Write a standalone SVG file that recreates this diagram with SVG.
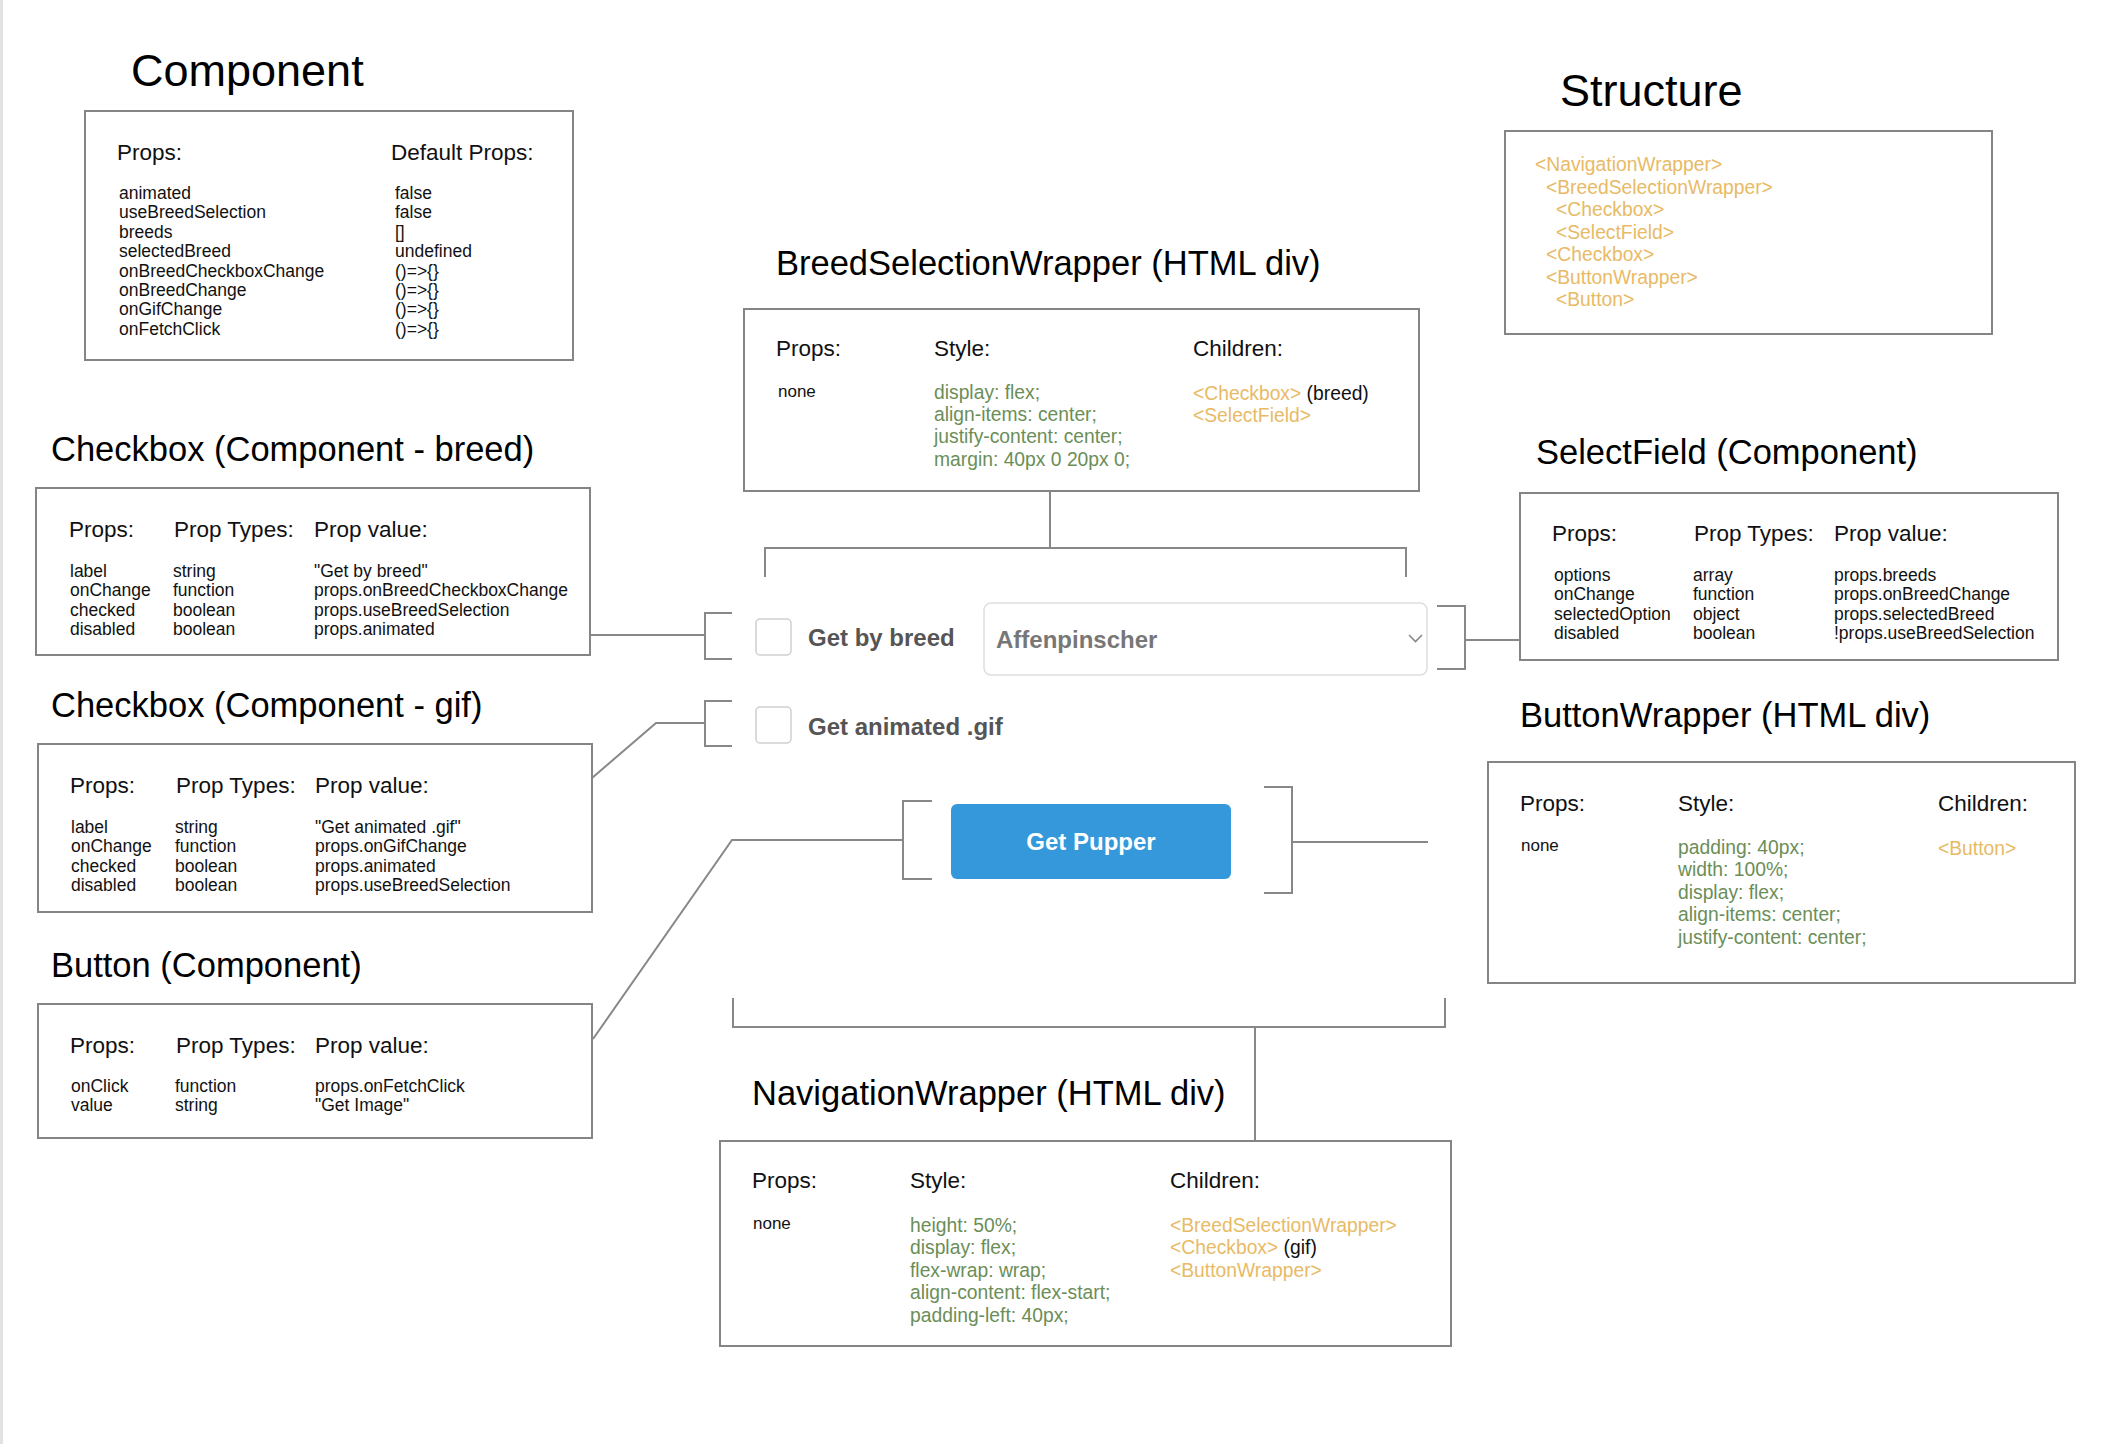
<svg xmlns="http://www.w3.org/2000/svg" width="2113" height="1444" viewBox="0 0 2113 1444">
<style>
text{font-family:"Liberation Sans",Arial,sans-serif}
.title{font-size:34.5px;fill:#000}
.big{font-size:45px;fill:#000}
.box{fill:#fff;stroke:#858585;stroke-width:2}
.hdr{font-size:22.5px;fill:#111}
.item{font-size:17.5px;fill:#111}
.none{font-size:17px;fill:#111}
.css{font-size:19.3px;fill:#6b8e58}
.tag{font-size:19.3px;fill:#e8ba66}
.plain{font-size:19.3px;fill:#111}
.conn{fill:none;stroke:#888;stroke-width:2}
.ui{font-weight:bold;font-size:24px}
.cb{fill:#fff;stroke:#cfcfcf;stroke-width:1.5}
</style>
<rect x="0" y="0" width="2113" height="1444" fill="#fff"/>
<rect x="0" y="0" width="3" height="1444" fill="#e2e2e2"/>

<g id="connectors">
  <path class="conn" d="M1050,491 V548 M765,577 V548 H1406 V577"/>
  <path class="conn" d="M590,635 H705 M732,613 H705 V659 H732"/>
  <path class="conn" d="M732,701 H705 V746 H732 M705,723 H656 L592,778"/>
  <path class="conn" d="M932,801 H903 V879 H932 M903,840 H732 L593,1039"/>
  <path class="conn" d="M1264,787 H1292 V893 H1264 M1292,842 H1428"/>
  <path class="conn" d="M1437,606 H1465 V669 H1437 M1465,640 H1520"/>
  <path class="conn" d="M733,998 V1027 H1445 V998 M1255,1027 V1141"/>
</g>

<g id="component">
  <text class="big" x="131" y="86">Component</text>
  <rect class="box" x="85" y="111" width="488" height="249"/>
  <text class="hdr" x="117" y="160">Props:</text>
  <text class="hdr" x="391" y="160">Default Props:</text>
  <text class="item" x="119" y="199">animated<tspan x="119" dy="19.4">useBreedSelection</tspan><tspan x="119" dy="19.4">breeds</tspan><tspan x="119" dy="19.4">selectedBreed</tspan><tspan x="119" dy="19.4">onBreedCheckboxChange</tspan><tspan x="119" dy="19.4">onBreedChange</tspan><tspan x="119" dy="19.4">onGifChange</tspan><tspan x="119" dy="19.4">onFetchClick</tspan></text>
  <text class="item" x="395" y="199">false<tspan x="395" dy="19.4">false</tspan><tspan x="395" dy="19.4">[]</tspan><tspan x="395" dy="19.4">undefined</tspan><tspan x="395" dy="19.4">()=&gt;{}</tspan><tspan x="395" dy="19.4">()=&gt;{}</tspan><tspan x="395" dy="19.4">()=&gt;{}</tspan><tspan x="395" dy="19.4">()=&gt;{}</tspan></text>
</g>

<g id="checkbox-breed">
  <text class="title" x="51" y="461">Checkbox (Component - breed)</text>
  <rect class="box" x="36" y="488" width="554" height="167"/>
  <text class="hdr" x="69" y="537">Props:</text>
  <text class="hdr" x="174" y="537">Prop Types:</text>
  <text class="hdr" x="314" y="537">Prop value:</text>
  <text class="item" x="70" y="577">label<tspan x="70" dy="19.3">onChange</tspan><tspan x="70" dy="19.3">checked</tspan><tspan x="70" dy="19.3">disabled</tspan></text>
  <text class="item" x="173" y="577">string<tspan x="173" dy="19.3">function</tspan><tspan x="173" dy="19.3">boolean</tspan><tspan x="173" dy="19.3">boolean</tspan></text>
  <text class="item" x="314" y="577">"Get by breed"<tspan x="314" dy="19.3">props.onBreedCheckboxChange</tspan><tspan x="314" dy="19.3">props.useBreedSelection</tspan><tspan x="314" dy="19.3">props.animated</tspan></text>
</g>

<g id="checkbox-gif">
  <text class="title" x="51" y="717">Checkbox (Component - gif)</text>
  <rect class="box" x="38" y="744" width="554" height="168"/>
  <text class="hdr" x="70" y="793">Props:</text>
  <text class="hdr" x="176" y="793">Prop Types:</text>
  <text class="hdr" x="315" y="793">Prop value:</text>
  <text class="item" x="71" y="833">label<tspan x="71" dy="19.4">onChange</tspan><tspan x="71" dy="19.4">checked</tspan><tspan x="71" dy="19.4">disabled</tspan></text>
  <text class="item" x="175" y="833">string<tspan x="175" dy="19.4">function</tspan><tspan x="175" dy="19.4">boolean</tspan><tspan x="175" dy="19.4">boolean</tspan></text>
  <text class="item" x="315" y="833">"Get animated .gif"<tspan x="315" dy="19.4">props.onGifChange</tspan><tspan x="315" dy="19.4">props.animated</tspan><tspan x="315" dy="19.4">props.useBreedSelection</tspan></text>
</g>

<g id="button">
  <text class="title" x="51" y="977">Button (Component)</text>
  <rect class="box" x="38" y="1004" width="554" height="134"/>
  <text class="hdr" x="70" y="1053">Props:</text>
  <text class="hdr" x="176" y="1053">Prop Types:</text>
  <text class="hdr" x="315" y="1053">Prop value:</text>
  <text class="item" x="71" y="1092">onClick<tspan x="71" dy="19.4">value</tspan></text>
  <text class="item" x="175" y="1092">function<tspan x="175" dy="19.4">string</tspan></text>
  <text class="item" x="315" y="1092">props.onFetchClick<tspan x="315" dy="19.4">"Get Image"</tspan></text>
</g>

<g id="breed-selection-wrapper">
  <text class="title" x="776" y="275">BreedSelectionWrapper (HTML div)</text>
  <rect class="box" x="744" y="309" width="675" height="182"/>
  <text class="hdr" x="776" y="356">Props:</text>
  <text class="hdr" x="934" y="356">Style:</text>
  <text class="hdr" x="1193" y="356">Children:</text>
  <text class="none" x="778" y="397">none</text>
  <text class="css" x="934" y="398.5">display: flex;<tspan x="934" dy="22.4">align-items: center;</tspan><tspan x="934" dy="22.4">justify-content: center;</tspan><tspan x="934" dy="22.4">margin: 40px 0 20px 0;</tspan></text>
  <text class="tag" x="1193" y="399.5">&lt;Checkbox&gt;<tspan class="plain"> (breed)</tspan><tspan x="1193" dy="22.4">&lt;SelectField&gt;</tspan></text>
</g>

<g id="structure">
  <text class="big" x="1560" y="106">Structure</text>
  <rect class="box" x="1505" y="131" width="487" height="203"/>
  <text class="tag" x="1535" y="171">&lt;NavigationWrapper&gt;</text>
  <text class="tag" x="1546" y="193.5">&lt;BreedSelectionWrapper&gt;</text>
  <text class="tag" x="1556" y="216">&lt;Checkbox&gt;</text>
  <text class="tag" x="1556" y="238.5">&lt;SelectField&gt;</text>
  <text class="tag" x="1546" y="261">&lt;Checkbox&gt;</text>
  <text class="tag" x="1546" y="283.5">&lt;ButtonWrapper&gt;</text>
  <text class="tag" x="1556" y="306">&lt;Button&gt;</text>
</g>

<g id="select-field">
  <text class="title" x="1536" y="464">SelectField (Component)</text>
  <rect class="box" x="1520" y="493" width="538" height="167"/>
  <text class="hdr" x="1552" y="541">Props:</text>
  <text class="hdr" x="1694" y="541">Prop Types:</text>
  <text class="hdr" x="1834" y="541">Prop value:</text>
  <text class="item" x="1554" y="581">options<tspan x="1554" dy="19.3">onChange</tspan><tspan x="1554" dy="19.3">selectedOption</tspan><tspan x="1554" dy="19.3">disabled</tspan></text>
  <text class="item" x="1693" y="581">array<tspan x="1693" dy="19.3">function</tspan><tspan x="1693" dy="19.3">object</tspan><tspan x="1693" dy="19.3">boolean</tspan></text>
  <text class="item" x="1834" y="581">props.breeds<tspan x="1834" dy="19.3">props.onBreedChange</tspan><tspan x="1834" dy="19.3">props.selectedBreed</tspan><tspan x="1834" dy="19.3">!props.useBreedSelection</tspan></text>
</g>

<g id="button-wrapper">
  <text class="title" x="1520" y="727">ButtonWrapper (HTML div)</text>
  <rect class="box" x="1488" y="762" width="587" height="221"/>
  <text class="hdr" x="1520" y="811">Props:</text>
  <text class="hdr" x="1678" y="811">Style:</text>
  <text class="hdr" x="1938" y="811">Children:</text>
  <text class="none" x="1521" y="851">none</text>
  <text class="css" x="1678" y="853.5">padding: 40px;<tspan x="1678" dy="22.5">width: 100%;</tspan><tspan x="1678" dy="22.5">display: flex;</tspan><tspan x="1678" dy="22.5">align-items: center;</tspan><tspan x="1678" dy="22.5">justify-content: center;</tspan></text>
  <text class="tag" x="1938" y="854.5">&lt;Button&gt;</text>
</g>

<g id="navigation-wrapper">
  <text class="title" x="752" y="1105">NavigationWrapper (HTML div)</text>
  <rect class="box" x="720" y="1141" width="731" height="205"/>
  <text class="hdr" x="752" y="1188">Props:</text>
  <text class="hdr" x="910" y="1188">Style:</text>
  <text class="hdr" x="1170" y="1188">Children:</text>
  <text class="none" x="753" y="1229">none</text>
  <text class="css" x="910" y="1231.5">height: 50%;<tspan x="910" dy="22.5">display: flex;</tspan><tspan x="910" dy="22.5">flex-wrap: wrap;</tspan><tspan x="910" dy="22.5">align-content: flex-start;</tspan><tspan x="910" dy="22.5">padding-left: 40px;</tspan></text>
  <text class="tag" x="1170" y="1231.5">&lt;BreedSelectionWrapper&gt;<tspan x="1170" dy="22.5">&lt;Checkbox&gt;</tspan><tspan class="plain"> (gif)</tspan><tspan x="1170" dy="22.5">&lt;ButtonWrapper&gt;</tspan></text>
</g>

<g id="ui-checkbox-breed">
  <rect class="cb" x="756" y="619" width="35" height="36" rx="4"/>
  <text class="ui" x="808" y="645.5" fill="#555">Get by breed</text>
</g>
<g id="ui-select">
  <rect x="984" y="603" width="443" height="72" rx="7" fill="#fff" stroke="#dedede" stroke-width="1.5"/>
  <text class="ui" x="996" y="648" fill="#777">Affenpinscher</text>
  <polyline points="1409,635 1415.5,641.5 1422,635" fill="none" stroke="#888" stroke-width="1.6"/>
</g>
<g id="ui-checkbox-gif">
  <rect class="cb" x="756" y="707" width="35" height="36" rx="4"/>
  <text class="ui" x="808" y="735" fill="#555">Get animated .gif</text>
</g>
<g id="ui-button">
  <rect x="951" y="804" width="280" height="75" rx="6" fill="#3498db"/>
  <text class="ui" x="1091" y="850" fill="#fff" text-anchor="middle">Get Pupper</text>
</g>
</svg>
